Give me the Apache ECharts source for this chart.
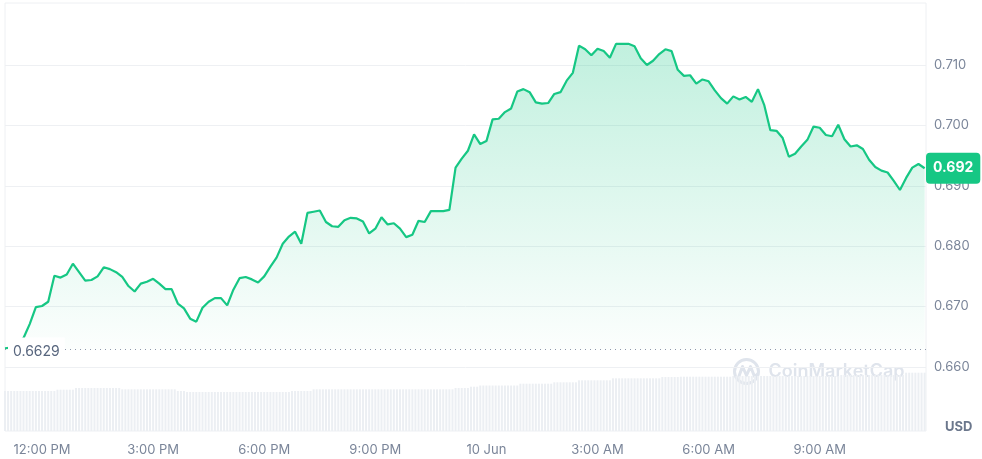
<!DOCTYPE html>
<html><head><meta charset="utf-8">
<script src="https://cdn.jsdelivr.net/npm/echarts@6/dist/echarts.min.js"></script>
<style>html,body{margin:0;padding:0;background:#fff}#c{width:982px;height:459px}</style>
</head><body><div id="c"></div>
<script>
// time is in hours since 00:00 on 9 Jun
const startHour = 11;
const priceStepHours = 1 / 6;   // one price every 10 minutes
const volumeStepHours = 1 / 12; // one volume bar every 5 minutes
const openPrice = 0.6629;

const priceValues = [
  0.6631, 0.6632, 0.6638, 0.6648, 0.6671, 0.6699, 0.6701, 0.6708, 0.6751, 0.6748,
  0.6753, 0.6771, 0.6757, 0.6743, 0.6744, 0.6750, 0.6765, 0.6762, 0.6757, 0.6749,
  0.6734, 0.6725, 0.6738, 0.6741, 0.6746, 0.6738, 0.6729, 0.6729, 0.6705, 0.6697,
  0.6680, 0.6675, 0.6698, 0.6708, 0.6714, 0.6714, 0.6702, 0.6728, 0.6747, 0.6749,
  0.6745, 0.6740, 0.6750, 0.6766, 0.6781, 0.6804, 0.6816, 0.6824, 0.6804, 0.6855,
  0.6857, 0.6859, 0.6840, 0.6833, 0.6832, 0.6843, 0.6847, 0.6846, 0.6841, 0.6821,
  0.6829, 0.6848, 0.6836, 0.6838, 0.6829, 0.6815, 0.6819, 0.6842, 0.6840, 0.6858,
  0.6858, 0.6858, 0.6860, 0.6930, 0.6945, 0.6958, 0.6985, 0.6969, 0.6974, 0.7010,
  0.7011, 0.7022, 0.7028, 0.7056, 0.7060, 0.7055, 0.7038, 0.7036, 0.7037, 0.7052,
  0.7055, 0.7074, 0.7087, 0.7132, 0.7126, 0.7116, 0.7127, 0.7123, 0.7112, 0.7135,
  0.7135, 0.7135, 0.7131, 0.7111, 0.7100, 0.7107, 0.7118, 0.7126, 0.7123, 0.7092,
  0.7082, 0.7083, 0.7069, 0.7076, 0.7073, 0.7058, 0.7045, 0.7036, 0.7048, 0.7043,
  0.7047, 0.7039, 0.7060, 0.7034, 0.6992, 0.6991, 0.6979, 0.6948, 0.6953, 0.6965,
  0.6976, 0.6998, 0.6996, 0.6984, 0.6982, 0.7001, 0.6977, 0.6965, 0.6967, 0.6961,
  0.6943, 0.6931, 0.6925, 0.6922, 0.6908, 0.6893, 0.6913, 0.6930, 0.6936, 0.6929
];

const volumeValues = [
  40, 40, 40, 40, 40, 40, 40, 40, 40, 40, 40, 40, 40, 40, 40, 40, 40,
  41.3, 41.3, 41.3, 41.3, 41.3, 41.3,
  43, 43, 43, 43, 43, 43, 43, 43, 43, 43, 43, 43, 43, 43, 43,
  41.7, 41.7, 41.7, 41.7, 41.7, 41.7, 41.7, 41.7, 41.7, 41.7, 41.7, 41.7, 41.7, 41.7, 41.7, 41.7, 41.7, 41.7,
  40, 40, 40,
  39, 39, 39, 39, 39, 39, 39, 39, 39, 39, 39, 39, 39, 39, 39, 39, 39,
  39, 39, 39, 39, 39, 39, 39, 39, 39, 39, 39, 39, 39, 39, 39, 39, 39,
  40, 40, 40, 40, 40, 40, 40,
  41.7, 41.7, 41.7, 41.7, 41.7, 41.7, 41.7, 41.7, 41.7, 41.7, 41.7, 41.7, 41.7, 41.7, 41.7, 41.7,
  41.7, 41.7, 41.7, 41.7, 41.7, 41.7, 41.7, 41.7, 41.7, 41.7, 41.7, 41.7, 41.7, 41.7, 41.7,
  41.7, 41.7, 41.7, 41.7, 41.7, 41.7, 41.7, 41.7, 41.7, 41.7, 41.7, 41.7, 41.7, 41.7, 41.7,
  43, 43, 43, 43, 43,
  44.3, 44.3, 44.3,
  45.5, 45.5, 45.5, 45.5, 45.5, 45.5, 45.5, 45.5, 45.5, 45.5, 45.5, 45.5, 45.5,
  47.3, 47.3, 47.3, 47.3, 47.3, 47.3, 47.3, 47.3, 47.3, 47.3, 47.3,
  48.7, 48.7, 48.7, 48.7, 48.7, 48.7, 48.7, 48.7,
  50.7, 50.7, 50.7, 50.7, 50.7, 50.7, 50.7, 50.7, 50.7, 50.7, 50.7,
  52.7, 52.7, 52.7, 52.7, 52.7, 52.7, 52.7, 52.7, 52.7, 52.7, 52.7, 52.7, 52.7, 52.7, 52.7, 52.7,
  54, 54, 54, 54, 54, 54,
  54.3, 54.3, 54.3, 54.3, 54.3, 54.3, 54.3, 54.3, 54.3, 54.3, 54.3, 54.3, 54.3, 54.3, 54.3, 54.3, 54.3,
  55, 55, 55, 55, 55, 55, 55, 55, 55, 55, 55, 55, 55, 55, 55, 55, 55, 55,
  55, 55, 55, 55, 55, 55, 55, 55, 55, 55, 55, 55, 55, 55, 55, 55, 55,
  56, 56, 56, 56, 56, 56, 56, 56, 56, 56, 56, 56, 56, 56, 56, 56, 56, 56, 56, 56, 56,
  58.3, 58.3, 58.3, 58.3, 58.3, 58.3, 58.3
];

const yTickValues = [0.66, 0.67, 0.68, 0.69, 0.70, 0.71];
const xTickValues = [12, 15, 18, 21, 24, 27, 30, 33];
const xTickLabels = ['12:00 PM', '3:00 PM', '6:00 PM', '9:00 PM', '10 Jun', '3:00 AM', '6:00 AM', '9:00 AM'];

const priceData = priceValues.map((v, i) => [startHour + i * priceStepHours, v]);
const volumeData = volumeValues.map((v, i) => [startHour + i * volumeStepHours, v]);
const lastPrice = priceValues[priceValues.length - 1];

const GREEN = '#16c784';
const AXIS_TEXT = '#7a8599';
const FONT = 'Inter, "Noto Sans", sans-serif';

const chart = echarts.init(document.getElementById('c'), null, { renderer: 'canvas' });
chart.setOption({
  animation: false,
  backgroundColor: '#fff',
  title: {
    text: 'USD', left: 940, top: 416,
    textStyle: { fontSize: 13, fontWeight: 'bold', color: '#6b778c', fontFamily: FONT }
  },
  grid: {
    left: 5, right: 56, top: 3, bottom: 28,
    show: true, borderColor: '#eef0f3', borderWidth: 1, backgroundColor: 'transparent'
  },
  xAxis: {
    type: 'value', min: 11, max: 35.87,
    axisLine: { show: false },
    axisTick: { show: false, customValues: xTickValues },
    splitLine: { show: false },
    axisLabel: {
      customValues: xTickValues, margin: 13,
      color: AXIS_TEXT, fontSize: 13, fontFamily: FONT,
      formatter: (val) => {
        const k = xTickValues.findIndex(t => Math.abs(t - val) < 1e-6);
        return k >= 0 ? xTickLabels[k] : '';
      }
    }
  },
  yAxis: [
    {
      type: 'value', position: 'right', min: 0.64940, max: 0.72026,
      axisLine: { show: false },
      axisTick: { show: false, customValues: yTickValues },
      splitLine: { show: true, lineStyle: { color: '#eef0f3', width: 1 } },
      axisLabel: {
        customValues: yTickValues, margin: 8,
        color: AXIS_TEXT, fontSize: 13, fontFamily: FONT,
        formatter: (v) => v.toFixed(3)
      }
    },
    { type: 'value', show: false, min: 0, max: 428 }
  ],
  graphic: [
    {
      type: 'group', left: 732, top: 357, silent: true, z: 0,
      children: [
        { type: 'circle', shape: { cx: 14, cy: 14, r: 12 }, style: { fill: 'none', stroke: '#dfe4ec', lineWidth: 3 } },
        { type: 'polyline', shape: { points: [[6, 20], [10, 9], [14, 18], [18, 9], [22, 19], [26, 16]] }, style: { fill: 'none', stroke: '#dfe4ec', lineWidth: 3, lineJoin: 'round' } },
        { type: 'text', style: { x: 36, y: 14, text: 'CoinMarketCap', fill: '#dfe4ec', font: '600 18px Inter, sans-serif', verticalAlign: 'middle' } }
      ]
    }
  ],
  series: [
    {
      type: 'bar', name: 'Volume', xAxisIndex: 0, yAxisIndex: 1,
      data: volumeData, barWidth: 2, silent: true, z: 1,
      itemStyle: { color: '#eceff3' }
    },
    {
      type: 'line', name: 'Price', xAxisIndex: 0, yAxisIndex: 0,
      data: priceData, showSymbol: false, smooth: false, z: 3,
      lineStyle: { color: GREEN, width: 2.2 },
      itemStyle: { color: GREEN },
      areaStyle: {
        origin: openPrice,
        color: new echarts.graphic.LinearGradient(0, 0, 0, 1, [
          { offset: 0, color: 'rgba(22,199,132,0.38)' },
          { offset: 1, color: 'rgba(22,199,132,0.02)' }
        ])
      },
      markLine: {
        symbol: 'none', silent: true, animation: false, z: 6, precision: 6,
        data: [
          {
            yAxis: openPrice,
            lineStyle: { color: '#8f99ab', type: [1, 4], width: 1.2 },
            label: {
              show: true, position: 'insideStartBottom', distance: [3, 0], offset: [0, -12],
              formatter: () => openPrice.toFixed(4),
              color: '#58667e', fontSize: 14, fontFamily: FONT,
              backgroundColor: '#fff', padding: [7, 5, 7, 5]
            }
          },
          {
            yAxis: lastPrice,
            lineStyle: { color: 'rgba(0,0,0,0)', width: 0 },
            label: {
              show: true, position: 'end', distance: 0,
              formatter: () => (Math.floor(lastPrice * 1000) / 1000).toFixed(3),
              color: '#fff', fontWeight: 'bold', fontSize: 14, fontFamily: FONT,
              backgroundColor: GREEN, padding: [9, 7, 8, 7], borderRadius: 4
            }
          }
        ]
      }
    }
  ]
});
</script>
</body></html>
